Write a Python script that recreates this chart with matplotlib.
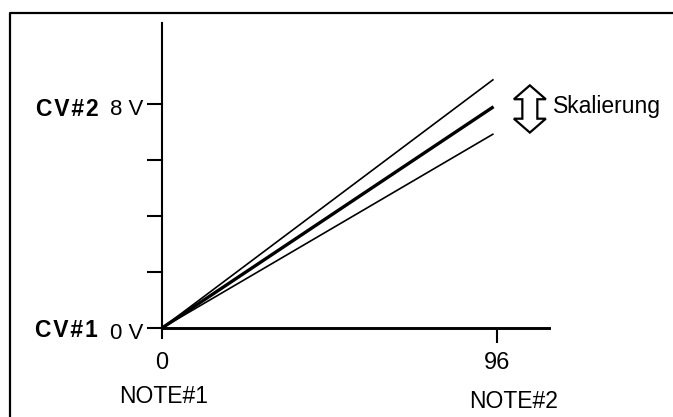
import matplotlib
matplotlib.use("Agg")
import matplotlib.pyplot as plt
from matplotlib.patches import Polygon
from matplotlib.lines import Line2D
import matplotlib.transforms as mtransforms

# data: note number vs control voltage, three scaling variants
note = [0, 95]
cv_upper = [0, 8.9]
cv_nominal = [0, 7.92]
cv_lower = [0, 6.95]

y_ticks = [0, 2, 4, 6, 8]
y_ticklabels = ["0 V", "", "", "", "8 V"]
x_ticks = [0, 96]
x_ticklabels = ["0", "96"]

plt.rcParams["font.family"] = ["Liberation Sans", "DejaVu Sans"]

fig = plt.figure(figsize=(6.73, 4.17), dpi=100)
ax = fig.add_axes([0, 0, 1, 1])
ax.set_xlim(-46.42, 146.42)
ax.set_ylim(-3.185, 11.74)
ax.patch.set_alpha(0)

ax.plot(note, cv_upper, color="black", lw=1.2, solid_capstyle="butt")
ax.plot(note, cv_nominal, color="black", lw=2.4, solid_capstyle="butt")
ax.plot(note, cv_lower, color="black", lw=1.2, solid_capstyle="butt")

# axes through the origin
for s in ["top", "right"]:
    ax.spines[s].set_visible(False)
ax.spines["left"].set_position(("data", 0))
ax.spines["bottom"].set_position(("data", 0))
ax.spines["left"].set_bounds(-0.36, 10.92)
ax.spines["bottom"].set_bounds(0, 110.9)
ax.spines["left"].set_linewidth(1.5)
ax.spines["bottom"].set_linewidth(2.1)
ax.set_yticks(y_ticks, y_ticklabels)
ax.set_xticks(x_ticks, x_ticklabels)
ax.tick_params(axis="y", direction="out", length=11, width=1.5, pad=2.5, labelsize=16)
ax.tick_params(axis="x", direction="out", length=11, width=1.5, pad=6, labelsize=17)
ax.xaxis.get_major_ticks()[0].tick1line.set_visible(False)
for lab in ax.get_yticklabels():
    lab.set_transform(lab.get_transform() + mtransforms.ScaledTranslation(0, -3 / 100, fig.dpi_scale_trans))

ax.text(-18.3, 7.6, "C\u200aV\u200a#\u200a2", ha="right", va="baseline",
        fontsize=16.5, fontweight="bold")
ax.text(-18.3, -0.32, "C\u200aV\u200a#\u200a1", ha="right", va="baseline",
        fontsize=16.5, fontweight="bold")
ax.text(0.57, -2.68, "NOTE#1", ha="center", va="baseline", fontsize=16.5)
ax.text(100.6, -2.86, "NOTE#2", ha="center", va="baseline", fontsize=16.5)
ax.text(112.0, 7.7, "Skalierung", ha="left", va="baseline", fontsize=16.5)

# outlined double arrow (shape in points, placed at a data position)
arrow_center = (105.4, 7.84)
hh, hl, hw, sw = 17.0, 10.0, 11.5, 5.4
shape = [(0, hh), (hw, hh - hl), (sw, hh - hl), (sw, -hh + hl), (hw, -hh + hl),
         (0, -hh), (-hw, -hh + hl), (-sw, -hh + hl), (-sw, hh - hl), (-hw, hh - hl)]
shape = [(px / 72, py / 72) for px, py in shape]
trans = fig.dpi_scale_trans + mtransforms.ScaledTranslation(
    arrow_center[0], arrow_center[1], ax.transData)
ax.add_patch(Polygon(shape, closed=True, fc="white", ec="black", lw=1.6,
                     transform=trans, joinstyle="miter"))

# frame on left and top
fig.add_artist(Line2D([9.5 / 673, 9.5 / 673, 1.0], [0.0, 1 - 12.5 / 417, 1 - 12.5 / 417],
                      transform=fig.transFigure, color="black", lw=1.6))

fig.savefig("out.png", dpi=100)
